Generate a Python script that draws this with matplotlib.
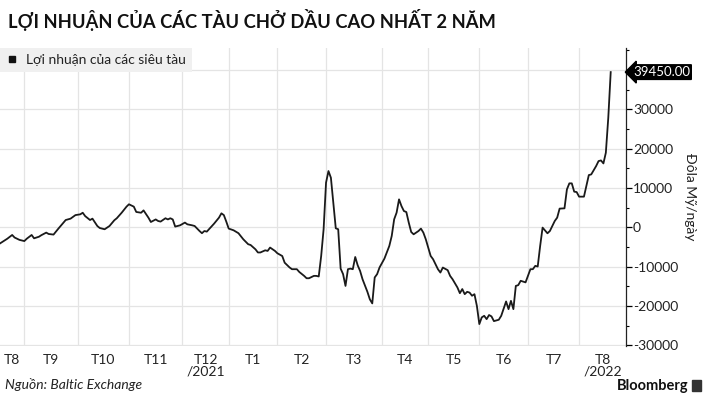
import numpy as np
import matplotlib.pyplot as plt
from matplotlib.lines import Line2D
from matplotlib.patches import Rectangle

plt.rcParams['font.family'] = ['Lato', 'DejaVu Sans']
plt.rcParams['axes.unicode_minus'] = False

title = 'LỢI NHUẬN CỦA CÁC TÀU CHỞ DẦU CAO NHẤT 2 NĂM'
series_name = 'Lợi nhuận của các siêu tàu'
y_title = 'Đôla Mỹ/ngày'
source = 'Nguồn: Baltic Exchange'

# Baltic Exchange trading days (UK holidays skipped on the axis)
start = '2021-08-17'
end = '2022-08-26'
holidays = ['2021-08-30', '2021-12-24', '2021-12-27', '2021-12-28', '2021-12-31',
            '2022-01-03', '2022-04-15', '2022-04-18', '2022-05-02', '2022-06-02',
            '2022-06-03', '2022-08-29']

month_starts = ['2021-09-01', '2021-10-01', '2021-11-01', '2021-12-01', '2022-01-01',
                '2022-02-01', '2022-03-01', '2022-04-01', '2022-05-01', '2022-06-01',
                '2022-07-01', '2022-08-01']
month_labels = ['T8', 'T9', 'T10', 'T11', 'T12\n/2021', 'T1', 'T2', 'T3', 'T4',
                'T5', 'T6', 'T7', 'T8\n/2022']

dates = [
    '2021-08-17', '2021-08-19', '2021-08-20', '2021-08-24', '2021-08-25', '2021-08-27',
    '2021-09-01', '2021-09-02', '2021-09-06', '2021-09-07', '2021-09-09', '2021-09-10',
    '2021-09-14', '2021-09-15', '2021-09-17', '2021-09-21', '2021-09-24', '2021-09-28',
    '2021-09-30', '2021-10-04', '2021-10-05', '2021-10-06', '2021-10-08', '2021-10-11',
    '2021-10-13', '2021-10-14', '2021-10-18', '2021-10-20', '2021-10-22', '2021-10-25',
    '2021-10-27', '2021-10-29', '2021-11-01', '2021-11-03', '2021-11-04', '2021-11-08',
    '2021-11-09', '2021-11-11', '2021-11-12', '2021-11-16', '2021-11-17', '2021-11-18',
    '2021-11-22', '2021-11-23', '2021-11-24', '2021-11-25', '2021-11-26', '2021-11-30',
    '2021-12-02', '2021-12-03', '2021-12-07', '2021-12-08', '2021-12-10', '2021-12-13',
    '2021-12-14', '2021-12-15', '2021-12-20', '2021-12-22', '2021-12-23', '2021-12-29',
    '2021-12-30', '2022-01-04', '2022-01-06', '2022-01-10', '2022-01-12', '2022-01-14',
    '2022-01-17', '2022-01-19', '2022-01-20', '2022-01-21', '2022-01-25', '2022-01-26',
    '2022-01-27', '2022-01-31', '2022-02-01', '2022-02-03', '2022-02-04', '2022-02-08',
    '2022-02-09', '2022-02-11', '2022-02-14', '2022-02-16', '2022-02-17', '2022-02-18',
    '2022-02-22', '2022-02-23', '2022-02-24', '2022-02-25', '2022-02-28', '2022-03-01',
    '2022-03-02', '2022-03-03', '2022-03-04', '2022-03-07', '2022-03-08', '2022-03-09',
    '2022-03-10', '2022-03-11', '2022-03-14', '2022-03-15', '2022-03-16', '2022-03-17',
    '2022-03-18', '2022-03-21', '2022-03-22', '2022-03-24', '2022-03-25', '2022-03-28',
    '2022-03-29', '2022-03-30', '2022-03-31', '2022-04-04', '2022-04-06', '2022-04-07',
    '2022-04-08', '2022-04-11', '2022-04-12', '2022-04-13', '2022-04-14', '2022-04-19',
    '2022-04-20', '2022-04-21', '2022-04-22', '2022-04-25', '2022-04-26', '2022-04-27',
    '2022-04-28', '2022-04-29', '2022-05-04', '2022-05-05', '2022-05-09', '2022-05-10',
    '2022-05-11', '2022-05-13', '2022-05-16', '2022-05-17', '2022-05-19', '2022-05-20',
    '2022-05-23', '2022-05-24', '2022-05-25', '2022-05-26', '2022-05-27', '2022-05-30',
    '2022-05-31', '2022-06-01', '2022-06-06', '2022-06-07', '2022-06-08', '2022-06-09',
    '2022-06-10', '2022-06-13', '2022-06-15', '2022-06-16', '2022-06-20', '2022-06-21',
    '2022-06-22', '2022-06-23', '2022-06-24', '2022-06-27', '2022-06-28', '2022-06-30',
    '2022-07-04', '2022-07-05', '2022-07-06', '2022-07-07', '2022-07-08', '2022-07-11',
    '2022-07-13', '2022-07-14', '2022-07-18', '2022-07-19', '2022-07-20', '2022-07-22',
    '2022-07-25', '2022-07-26', '2022-07-27', '2022-07-28', '2022-07-29', '2022-08-01',
    '2022-08-03', '2022-08-04', '2022-08-05', '2022-08-08', '2022-08-10', '2022-08-11',
    '2022-08-12', '2022-08-15', '2022-08-16', '2022-08-17', '2022-08-18',
]

profit = [
    -4100, -3300, -2900, -1950, -2600, -3200,
    -3500, -2900, -1950, -2800, -2400, -2000,
    -1350, -1700, -1850, -330, 1850, 2200,
    3100, 3300, 3700, 2850, 1850, 2200,
    330, -180, -500, 330, 1800, 2300,
    3700, 5250, 5850, 5250, 3900, 3700,
    4300, 2450, 1350, 2000, 1600, 1450,
    2300, 2000, 2300, 2000, 180, 500,
    1200, 760, 500, 330, -940, -1500,
    -940, -1100, 940, 2450, 3550, 3100,
    1450, -330, -760, -1500, -3050, -4300,
    -4500, -5600, -6400, -6400, -5850, -6000,
    -5150, -6000, -6600, -7300, -9000, -10200,
    -10650, -10650, -11350, -12350, -12950, -12950,
    -12350, -12350, -12500, -7300, -500, 11350,
    14300, 12600, 6270, -250, -500, -10500,
    -11900, -14900, -10650, -10500, -10650, -7550,
    -9650, -11100, -13200, -16400, -18300, -19350,
    -12750, -11900, -10200, -7950, -4750, -2200,
    2030, 3730, 7100, 5400, 4140, 3880,
    1190, -1190, -1780, -1350, -940, -330,
    -1350, -3050, -7280, -8120, -10660, -11500,
    -10230, -10900, -12360, -13200, -15300, -16750,
    -15700, -17000, -16400, -16600, -17400, -17000,
    -20000, -24600, -22900, -22500, -23350, -22300,
    -22650, -23850, -23500, -22500, -18850, -20800,
    -18700, -20800, -14900, -14700, -13600, -14000,
    -10650, -10650, -9800, -9970, -4750, -80,
    -1520, -940, 1600, 2460, 4750, 4820,
    9640, 11170, 11170, 9060, 8960, 7790,
    7790, 10480, 13270, 13450, 15560, 16830,
    17000, 16240, 18960, 27840, 39450,
]

y_ticks = [-30000, -20000, -10000, 0, 10000, 20000, 30000, 40000]


def trading_index(d):
    return np.busday_count(start, d, holidays=holidays)


x = trading_index(dates)
x_end = trading_index(end) + 0.3
grid_x = trading_index(np.busday_offset(month_starts, 0, roll='forward', holidays=holidays))
edges = np.concatenate([[0], grid_x, [x_end]])
label_x = (edges[:-1] + edges[1:]) / 2

fig = plt.figure(figsize=(7.05, 3.96), dpi=100)
ax = fig.add_axes([0.0, 0.126, 0.888, 0.753])

ax.plot(x, profit, color='#1a1a1a', lw=1.3, zorder=3)

ax.set_xlim(0, x_end)
ax.set_ylim(-30200, 45600)

# month boundaries as grid, month names centred between them
ax.set_xticks(grid_x, minor=True)
ax.set_xticks(label_x)
ax.set_xticklabels(month_labels, fontsize=10, color='#222222', linespacing=0.95)
ax.tick_params(axis='x', which='both', length=0, pad=6)
ax.grid(True, axis='x', which='minor', color='#e4e4e4', lw=0.9)

ax.yaxis.tick_right()
ax.yaxis.set_label_position('right')
ax.set_yticks(y_ticks)
ax.set_yticklabels([str(t) if t < 40000 else '' for t in y_ticks])
ax.set_yticks(np.arange(-30000, 45001, 5000), minor=True)
ax.tick_params(axis='y', which='major', direction='out', length=4, width=0.9,
               pad=1, labelsize=10, labelcolor='#222222')
ax.tick_params(axis='y', which='minor', direction='out', length=2, width=0.8)
ax.grid(True, axis='y', which='major', color='#e4e4e4', lw=0.9)
ax.set_ylabel(y_title, rotation=270, labelpad=13, fontsize=10, color='#222222')

for side in ['left', 'top', 'bottom']:
    ax.spines[side].set_visible(False)
ax.spines['right'].set_color('#222222')
ax.spines['right'].set_linewidth(0.9)

handle = Line2D([], [], marker='s', ls='none', color='#111111', markersize=4.5)
leg = ax.legend([handle], [series_name], loc='upper left', bbox_to_anchor=(0, 1),
                borderaxespad=0, frameon=True, facecolor='#f0f0f0', edgecolor='none',
                fancybox=False, framealpha=1, handlelength=0.8, handletextpad=0.6,
                borderpad=0.45, fontsize=10)
for t in leg.get_texts():
    t.set_color('#222222')

ax.annotate(f'{profit[-1]:.2f}', xy=(1, profit[-1]), xycoords=('axes fraction', 'data'),
            xytext=(5, 0), textcoords='offset points', ha='left', va='center',
            color='white', fontsize=9.5,
            bbox=dict(boxstyle='larrow,pad=0.1', fc='black', ec='black'),
            annotation_clip=False)

fig.text(0.011, 0.95, title, fontsize=13.2, fontweight='bold', va='center', color='#111111')
fig.text(0.007, 0.028, source, fontsize=10, style='italic', va='center', color='#222222')
fig.text(0.976, 0.025, 'Bloomberg', fontsize=10.5, fontweight='bold', ha='right',
         va='center', color='#111111')
fig.add_artist(Rectangle((0.982, 0.012), 0.012, 0.028, transform=fig.transFigure,
                         color='#333333'))

fig.savefig('out.png', dpi=100)
